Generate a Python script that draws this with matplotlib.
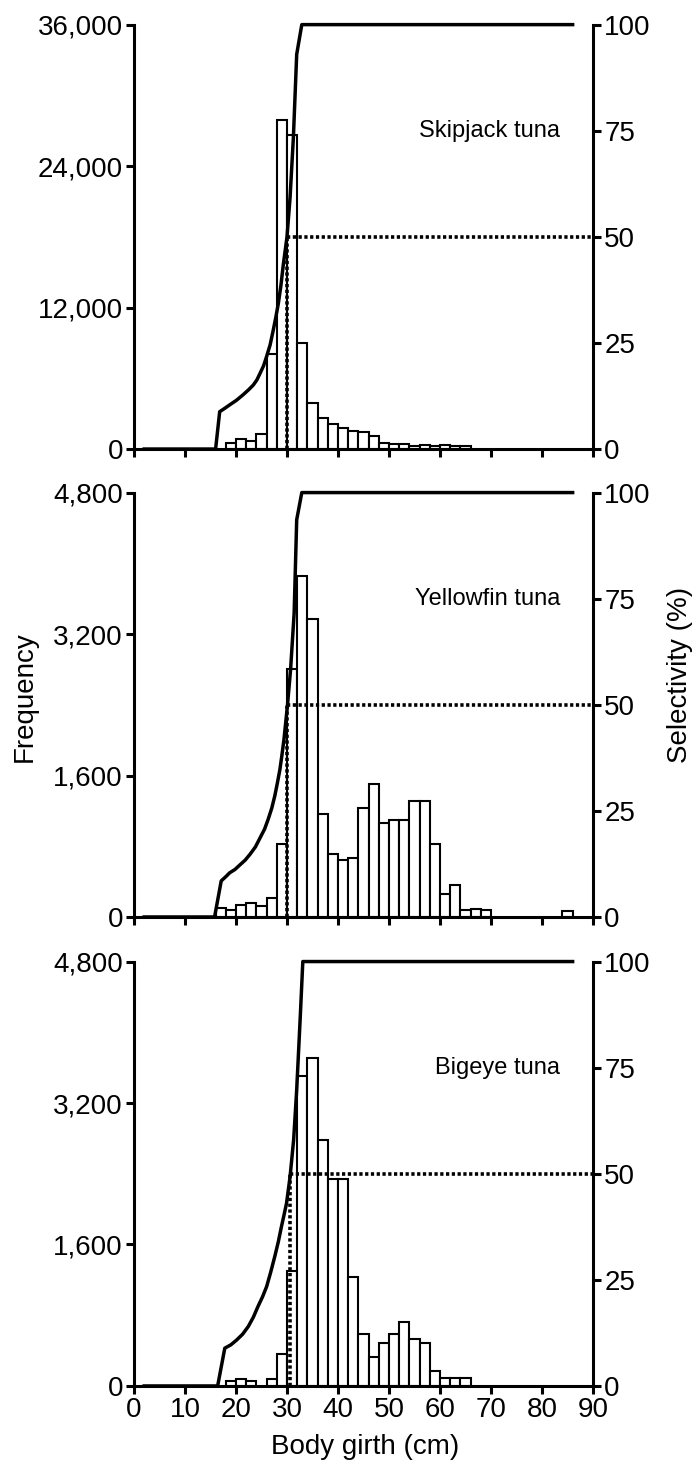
import matplotlib
matplotlib.use('Agg')
import matplotlib.pyplot as plt
from matplotlib.ticker import FuncFormatter

plt.rcParams['font.family'] = ['Liberation Sans', 'DejaVu Sans']

species = ['Skipjack tuna', 'Yellowfin tuna', 'Bigeye tuna']

# Catch frequency per 2 cm girth class (left bin edge, count)
sj_edges = [18, 20, 22, 24, 26, 28, 30, 32, 34, 36, 38, 40, 42, 44, 46, 48,
            50, 52, 54, 56, 58, 60, 62, 64]
sj_freq = [480, 850, 680, 1270, 8100, 27900, 26600, 8960, 3880, 2650, 2090,
           1750, 1520, 1470, 1130, 540, 420, 420, 225, 366, 225, 366, 225, 225]

yf_edges = [16, 18, 20, 22, 24, 26, 28, 30, 32, 34, 36, 38, 40, 42, 44, 46,
            48, 50, 52, 54, 56, 58, 60, 62, 64, 66, 68, 84]
yf_freq = [100, 75, 130, 160, 120, 220, 825, 2810, 3860, 3370, 1170, 715,
           650, 670, 1235, 1500, 1066, 1096, 1096, 1310, 1310, 821, 264, 361,
           75, 87, 75, 70]

be_edges = [18, 20, 22, 26, 28, 30, 32, 34, 36, 38, 40, 42, 44, 46, 48, 50,
            52, 54, 56, 58, 60, 62, 64]
be_freq = [57, 83, 60, 75, 360, 1305, 3500, 3713, 2785, 2343, 2343, 1230,
           584, 332, 490, 584, 724, 528, 490, 165, 95, 95, 95]

# Selectivity curves (girth in cm, selectivity in %)
sj_sel_x = [2, 16, 16.8, 17.8, 18.75, 20.1, 21.4, 22.5, 23.4, 24.1, 24.7,
            25.4, 26, 26.7, 27.3, 27.8, 28.3, 28.8, 29.3, 30, 30.6, 31.25,
            31.9, 32.9, 86]
sj_sel_y = [0, 0, 8.8, 9.6, 10.4, 11.5, 12.8, 14.0, 15.1, 16.3, 17.8, 19.6,
            21.8, 24.6, 28, 31.0, 34.3, 38.5, 43.7, 50, 59.3, 73.4, 93, 100,
            100]

yf_sel_x = [2, 15.8, 17.1, 18.0, 18.75, 19.8, 20.7, 21.8, 22.7, 23.8, 24.7,
            25.6, 26.3, 27.0, 27.6, 28.1, 28.6, 29.0, 29.4, 30.07, 30.7, 31.4,
            31.9, 32.9, 86]
yf_sel_y = [0, 0, 8.5, 9.5, 10.4, 11.2, 12.2, 13.4, 14.7, 16.5, 18.6, 20.7,
            23, 25.6, 28.5, 31.5, 34.7, 38.1, 41.8, 49.6, 58.3, 71.6, 93.6,
            100, 100]

be_sel_x = [2, 16.4, 17.8, 19.0, 20.1, 21.3, 22.4, 23.4, 24.3, 25.2, 26,
            26.8, 27.6, 28.3, 28.9, 29.4, 29.9, 30.6, 31.3, 31.9, 32.6, 33.1,
            86]
be_sel_y = [0, 0, 8.9, 9.7, 10.8, 12.2, 14, 16.2, 18.7, 21.0, 23.4, 26.8,
            30.5, 34.0, 37.5, 40.2, 43, 49.3, 58, 69.8, 87, 100, 100]

# Girth at 50% selectivity
l50 = [30, 30, 30.6]

freq_max = [36000, 4800, 4800]
freq_ticks = [[0, 12000, 24000, 36000], [0, 1600, 3200, 4800],
              [0, 1600, 3200, 4800]]
sel_ticks = [0, 25, 50, 75, 100]
x_ticks = list(range(0, 91, 10))

panels = [
    (sj_edges, sj_freq, sj_sel_x, sj_sel_y),
    (yf_edges, yf_freq, yf_sel_x, yf_sel_y),
    (be_edges, be_freq, be_sel_x, be_sel_y),
]

fig = plt.figure(figsize=(6.99, 14.66), dpi=100)
bottoms = [0.6937, 0.3745, 0.0546]
tick_fs = 20
lw_axis = 2.2

for i, (edges, freq, sx, sy) in enumerate(panels):
    ax = fig.add_axes([0.1917, bottoms[i], 0.6567, 0.2895])
    ax.bar(edges, freq, width=2, align='edge', facecolor='white',
           edgecolor='black', linewidth=1.5, zorder=2)
    ax.set_xlim(0, 90)
    ax.set_ylim(0, freq_max[i])
    ax.set_yticks(freq_ticks[i])
    ax.yaxis.set_major_formatter(FuncFormatter(lambda v, p: f'{int(v):,}'))
    ax.set_xticks(x_ticks)
    if i < 2:
        ax.set_xticklabels([])

    ax2 = ax.twinx()
    ax2.set_ylim(0, 100)
    ax2.set_yticks(sel_ticks)
    ax2.plot(sx, sy, color='black', linewidth=2.5, solid_joinstyle='round',
             clip_on=False, zorder=3)
    ax2.plot([l50[i], l50[i]], [0, 50], color='black', linewidth=2.6,
             linestyle=(0, (0.9, 0.7)), zorder=3)
    ax2.plot([l50[i], 90], [50, 50], color='black', linewidth=2.6,
             linestyle=(0, (0.9, 0.7)), zorder=3)
    ax2.text(83.5, 75, species[i], ha='right', va='center', fontsize=17)

    for a in (ax, ax2):
        a.spines['top'].set_visible(False)
        for s in ('left', 'right', 'bottom'):
            a.spines[s].set_linewidth(lw_axis)
        a.tick_params(axis='both', which='major', labelsize=tick_fs,
                      length=6, width=lw_axis, direction='out', pad=2)
    ax.spines['right'].set_visible(False)
    ax2.spines['left'].set_visible(False)
    ax2.spines['bottom'].set_visible(False)

fig.text(0.036, 0.5245, 'Frequency', rotation=90, ha='center', va='center',
         fontsize=20)
fig.text(0.973, 0.5396, 'Selectivity (%)', rotation=90, ha='center',
         va='center', fontsize=20)
fig.text(0.522, 0.0130, 'Body girth (cm)', ha='center', va='center',
         fontsize=20)

fig.savefig('out.png', dpi=100, facecolor='white')
